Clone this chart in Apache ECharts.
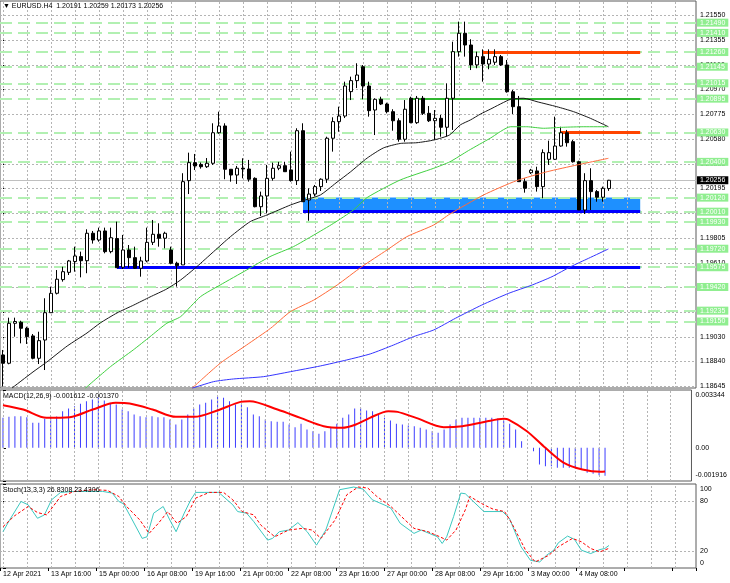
<!DOCTYPE html>
<html>
<head>
<meta charset="utf-8">
<script src="https://cdn.jsdelivr.net/npm/echarts@6/dist/echarts.min.js"></script>
<style>
html, body { margin: 0; padding: 0; background: #fff; }
#main { width: 730px; height: 583px; }
</style>
</head>
<body>
<div id="main"></div>
<script>
// EURUSD H4, bars from 12 Apr 08:00 to 5 May 04:00
const timeLabels = ['12 Apr 2021', '13 Apr 16:00', '15 Apr 00:00', '16 Apr 08:00', '19 Apr 16:00', '21 Apr 00:00',
    '22 Apr 08:00', '23 Apr 16:00', '27 Apr 00:00', '28 Apr 08:00', '29 Apr 16:00', '3 May 00:00', '4 May 08:00'];

const priceTicks = ['1.18645', '1.18840', '1.19030', '1.19225', '1.19420', '1.19610', '1.19805', '1.20000',
    '1.20195', '1.20385', '1.20580', '1.20775', '1.20970', '1.21160', '1.21355', '1.21550'];

const opens = [1.18888,1.18823,1.19136,1.19144,1.19097,1.19037,1.18862,1.19005,1.19219,1.19371,
    1.19478,1.19535,1.19620,1.19658,1.19626,1.19841,1.19788,1.19859,1.19697,1.19800,
    1.19575,1.19710,1.19650,1.19567,1.19624,1.19770,1.19833,1.19802,1.19710,1.19606,
    1.19593,1.20253,1.20394,1.20380,1.20362,1.20389,1.20628,1.20681,1.20342,1.20297,
    1.20350,1.20344,1.20271,1.20049,1.20133,1.20271,1.20350,1.20370,1.20337,1.20253,
    1.20644,1.20101,1.20148,1.20206,1.20264,1.20585,1.20715,1.20759,1.20950,1.21036,
    1.21145,1.20994,1.20806,1.20890,1.20853,1.20793,1.20722,1.20577,1.20898,1.20707,
    1.20898,1.20780,1.20722,1.20741,1.20671,1.20898,1.21263,1.21407,1.21315,1.21159,
    1.21224,1.21166,1.21180,1.21224,1.21159,1.20949,1.20832,1.20245,1.20315,1.20329,
    1.20206,1.20420,1.20420,1.20524,1.20628,1.20558,1.20401,1.20023,1.20253,1.20167,
    1.20123,1.20191];
const highs = [1.18927,1.19180,1.19180,1.19156,1.19109,1.19052,1.19070,1.19332,1.19423,1.19553,
    1.19579,1.19632,1.19736,1.19697,1.19872,1.19859,1.19885,1.19885,1.19885,1.19932,
    1.19828,1.19749,1.19736,1.19657,1.19885,1.19945,1.19919,1.19853,1.19736,1.19618,
    1.20311,1.20472,1.20462,1.20395,1.20430,1.20702,1.20793,1.20702,1.20342,1.20368,
    1.20428,1.20415,1.20279,1.20167,1.20376,1.20394,1.20400,1.20401,1.20480,1.20663,
    1.20702,1.20193,1.20219,1.20271,1.20597,1.20749,1.20832,1.21028,1.21067,1.21172,
    1.21158,1.21028,1.20898,1.20910,1.20863,1.20812,1.20741,1.20884,1.20910,1.20916,
    1.20916,1.20837,1.20806,1.20767,1.21015,1.21341,1.21498,1.21498,1.21360,1.21263,
    1.21281,1.21281,1.21281,1.21237,1.21198,1.20963,1.20916,1.20271,1.20345,1.20362,
    1.20498,1.20566,1.20754,1.20675,1.20650,1.20571,1.20409,1.20311,1.20350,1.20180,
    1.20206,1.20259];
const lows = [1.18640,1.18815,1.19031,1.18979,1.18974,1.18854,1.18817,1.18770,1.19219,1.19362,
    1.19462,1.19514,1.19540,1.19496,1.19528,1.19760,1.19775,1.19684,1.19684,1.19571,
    1.19561,1.19571,1.19561,1.19501,1.19614,1.19749,1.19736,1.19723,1.19598,1.19423,
    1.19593,1.20148,1.20336,1.20347,1.20352,1.20376,1.20620,1.20264,1.20245,1.20227,
    1.20271,1.20245,1.20044,1.19976,1.19997,1.20253,1.20335,1.20323,1.20245,1.20219,
    1.20088,1.19939,1.20130,1.20172,1.20235,1.20480,1.20636,1.20743,1.20884,1.20978,
    1.20890,1.20754,1.20610,1.20845,1.20780,1.20644,1.20558,1.20558,1.20702,1.20697,
    1.20767,1.20712,1.20571,1.20597,1.20597,1.20650,1.21224,1.21224,1.21119,1.21133,
    1.21028,1.21125,1.21159,1.21151,1.20942,1.20775,1.20245,1.20159,1.20305,1.20167,
    1.20115,1.20376,1.20415,1.20519,1.20519,1.20394,1.20023,1.19992,1.20023,1.20088,
    1.20088,1.20173];
const closes = [1.18823,1.19136,1.19150,1.19097,1.19031,1.18862,1.19000,1.19219,1.19371,1.19481,
    1.19540,1.19624,1.19663,1.19626,1.19841,1.19788,1.19859,1.19697,1.19806,1.19571,
    1.19710,1.19650,1.19567,1.19624,1.19770,1.19833,1.19802,1.19841,1.19606,1.19587,
    1.20245,1.20394,1.20368,1.20362,1.20389,1.20628,1.20681,1.20342,1.20297,1.20350,
    1.20344,1.20264,1.20049,1.20133,1.20271,1.20350,1.20370,1.20323,1.20253,1.20644,
    1.20088,1.20148,1.20206,1.20264,1.20585,1.20715,1.20759,1.20994,1.21036,1.21080,
    1.20994,1.20801,1.20890,1.20853,1.20793,1.20722,1.20577,1.20812,1.20707,1.20898,
    1.20780,1.20722,1.20741,1.20671,1.20898,1.21263,1.21407,1.21315,1.21159,1.21224,
    1.21166,1.21203,1.21224,1.21159,1.20949,1.20832,1.20245,1.20193,1.20335,1.20206,
    1.20472,1.20472,1.20524,1.20628,1.20550,1.20401,1.20023,1.20253,1.20167,1.20123,
    1.20193,1.20256];

// moving averages, [bar, price]
const maBlack = [[1.5,1.18629],[5,1.18755],[7.3,1.18833],[10.7,1.18958],[14,1.19060],[16.2,1.19138],[19,1.19217],
    [21.8,1.19279],[24.5,1.19342],[27.3,1.19405],[29.6,1.19475],[32.3,1.19579],[35.1,1.19697],[37.9,1.19814],
    [41.2,1.19932],[44,1.19984],[47.9,1.20062],[50.1,1.20098],[52.9,1.20141],[55.5,1.20235],[57.9,1.20321],
    [60.7,1.20430],[63.4,1.20509],[66.2,1.20544],[69,1.20550],[71.8,1.20571],[74.4,1.20610],[76.2,1.20689],
    [77.9,1.20728],[79.6,1.20775],[81.2,1.20812],[84.6,1.20890],[86.8,1.20898],[89,1.20871],[92.3,1.20832],
    [95.1,1.20793],[97.9,1.20741],[100.9,1.20675]];
const maGreen = [[13.7,1.18627],[17.9,1.18796],[21.7,1.18927],[24.5,1.19031],[27.3,1.19136],[29.6,1.19188],
    [32.9,1.19344],[36.2,1.19436],[40.6,1.19553],[44.5,1.19658],[48.4,1.19736],[51.8,1.19827],[55.1,1.19919],
    [58.4,1.20023],[60.7,1.20121],[66.2,1.20258],[71.8,1.20350],[74.5,1.20401],[77.6,1.20489],[81.2,1.20585],
    [84.6,1.20675],[87.3,1.20675],[90.1,1.20663],[93.4,1.20671],[96.8,1.20675],[100.7,1.20675]];
const maOrange = [[31.5,1.18627],[36.2,1.18823],[40.6,1.18966],[44.6,1.19097],[47.9,1.19227],[51.8,1.19318],
    [55.7,1.19436],[59.8,1.19579],[64,1.19710],[67.3,1.19814],[71.8,1.19906],[74.5,1.19992],[80.1,1.20141],
    [85.6,1.20253],[90.7,1.20323],[95.7,1.20376],[100.9,1.20428]];
const maBlue = [[31.5,1.18627],[35.1,1.18679],[38.4,1.18700],[43.4,1.18718],[47.9,1.18757],[52.9,1.18802],
    [57.3,1.18849],[61.2,1.18896],[65.1,1.18966],[68.4,1.19031],[71.8,1.19084],[75.4,1.19175],[79.8,1.19279],
    [84.3,1.19371],[88.2,1.19436],[91.5,1.19501],[94.6,1.19579],[97.6,1.19645],[100.9,1.19718]];

// horizontal levels drawn on the chart
const levelPrices = [1.21490, 1.21410, 1.21260, 1.21145, 1.21015, 1.20895, 1.20630, 1.20400,
    1.20120, 1.20010, 1.19930, 1.19720, 1.19575, 1.19420, 1.19235, 1.19150];
const lastPrice = 1.20256;
// [fromBar, toBar, price]
const redLines = [[80, 106.2, 1.21260], [93, 106.2, 1.20630]];
const greenLines = [[68, 106.2, 1.20895]];
const blueLines = [[19, 106.2, 1.19575], [50, 106.2, 1.20010]];
// [fromBar, toBar, low, high]
const blueZone = [50, 106.2, 1.20010, 1.20120];

// MACD(12,26,9)
const macdHist = [0.001734,0.001792,0.001831,0.001831,0.001773,0.001445,0.001445,0.001676,0.001811,0.001811,
    0.002120,0.002274,0.002409,0.002544,0.002698,0.002794,0.002890,0.002736,0.002601,0.002505,
    0.002216,0.002120,0.001927,0.001831,0.001773,0.001831,0.001773,0.001773,0.001638,0.001349,
    0.001638,0.001927,0.002274,0.002505,0.002601,0.002794,0.002987,0.002890,0.002698,0.002505,
    0.002544,0.002351,0.001927,0.001831,0.001638,0.001542,0.001503,0.001503,0.001349,0.001195,
    0.001387,0.001060,0.000964,0.000809,0.000964,0.001195,0.001387,0.001734,0.001927,0.002274,
    0.002312,0.002158,0.002120,0.001927,0.001734,0.001580,0.001387,0.001349,0.001291,0.001253,
    0.001156,0.001060,0.000964,0.000867,0.001060,0.001349,0.001638,0.001734,0.001734,0.001734,
    0.001734,0.001734,0.001734,0.001696,0.001580,0.001387,0.001060,0.000385,-0.000039,-0.000193,
    -0.000964,-0.001060,-0.001060,-0.001156,-0.001156,-0.001156,-0.001156,-0.001253,-0.001445,-0.001503,
    -0.001580,-0.001612];
const macdSignal = [[0,0.002467],[3.4,0.002216],[7.3,0.001734],[11.2,0.001773],[15.05,0.002216],[18.9,0.002601],
    [21.25,0.002563],[25.1,0.002216],[29,0.001792],[32.1,0.001792],[35.95,0.002158],[39.85,0.002659],
    [41.4,0.002698],[46.05,0.002216],[49.9,0.001734],[53.8,0.001253],[56.9,0.001156],[59.2,0.001349],
    [61.55,0.001734],[64.65,0.002120],[66.2,0.002081],[69.3,0.001734],[73.95,0.001195],[77.05,0.001253],
    [80.9,0.001503],[84,0.001676],[84.8,0.001638],[87.9,0.000964],[91,0],[94.1,-0.000867],[97.2,-0.001253],
    [100.3,-0.001387],[101,-0.001370]];
const macdMax = 0.003344, macdMin = -0.001916;

// Stochastic(13,3,3)
const stochMain = [[0,43.2],[1.1,57.2],[3,79.2],[4.2,75.2],[5.75,59.2],[6.9,63.2],[8.1,81.2],[9.6,90],[11.95,91.2],
    [14.3,91.2],[16.6,91.2],[18.2,89.2],[19.3,79.2],[20.1,76.4],[21.25,61.2],[23.2,35.2],[24,37.2],[25.1,65.2],
    [26.7,73.2],[27.8,57.2],[28.85,43.2],[30.2,65.2],[31.3,81.2],[32.1,90],[33.65,90],[35.95,90],[38.3,75.2],
    [39.1,67.2],[40.6,65.2],[41.8,55.2],[44.1,33.2],[44.9,35.2],[46.05,43.2],[47.6,45.2],[49.15,54],[50.7,43.2],
    [52.25,27.2],[53.8,45.2],[54.95,69.2],[56.1,93.2],[58.45,96.4],[60,94],[61.55,81.2],[63.9,74],[64.65,71.2],
    [66.2,53.2],[68.5,41.2],[69.7,45.2],[72.4,37.2],[73.2,29.2],[73.95,37.2],[75.1,61.2],[76.3,89.2],[77.05,88.4],
    [77.8,83.2],[80.15,67.2],[83.25,67.2],[84.4,59.2],[86.35,25.2],[87.9,9.2],[89.45,7.2],[90.6,15.2],[91.8,21.2],
    [92.55,30],[94.1,38],[95.25,34],[96.4,21.2],[97.95,17.2],[99.5,22],[100.3,23.2],[101,26.8308]];
const stochSignal = [[0,49.2],[1.9,62],[4.2,73.2],[5.75,66],[7.3,63.2],[9.6,85.2],[11.95,91.2],[15.05,93.2],
    [17.4,92.4],[19.3,85.2],[20.5,74],[22.8,57.2],[24.35,41.2],[25.9,53.2],[27.45,67.2],[29,53.2],[30.55,61.2],
    [32.1,83.2],[34.4,90],[36.75,90],[38.3,81.2],[39.85,67.2],[41.8,63.2],[42.95,51.2],[45.3,37.2],[47.6,45.2],
    [49.9,47.2],[51.5,45.2],[53,35.2],[55.35,57.2],[57.3,87.2],[59.2,96.4],[60.8,95.2],[62.3,85.2],[64.65,73.2],
    [67,57.2],[68.5,47.2],[70.85,43.2],[72.8,37.2],[73.95,33.2],[75.5,45.2],[77.05,69.2],[77.8,85.2],[80.15,75.2],
    [81.7,70],[83.6,67.2],[84.8,53.2],[87.1,21.2],[88.7,7.2],[91,15.2],[92.55,25.2],[94.9,35.2],[96.4,31.2],
    [97.95,23.2],[99.5,19.2],[101,23.4306]];
const stochTicks = [100, 80, 20, 0];

const FONT = "'Liberation Sans', 'DejaVu Sans', sans-serif";
const N = 116;   // bar slots across the panel width
const cats = Array.from({length: N}, (_, i) => String(i));
const tickVals = priceTicks.map(Number);

const last = opens.length - 1;
const header = '\u25BC EURUSD.H4  ' + [opens[last], highs[last], lows[last], closes[last]].map(v => v.toFixed(5)).join(' ');

function catAxis(g, showLabels) {
    return {
        type: 'category', gridIndex: g, data: cats, boundaryGap: true,
        axisLine: {show: false}, splitLine: {show: false},
        axisTick: showLabels ? {show: true, length: 3, interval: i => i % 8 === 0, lineStyle: {color: '#000'}} : {show: false},
        axisLabel: showLabels ? {
            show: true, interval: i => i % 8 === 0 && i / 8 < timeLabels.length,
            formatter: (v, i) => (i % 8 === 0 && timeLabels[i / 8]) || '',
            align: 'left', fontSize: 7, color: '#000', fontFamily: FONT, margin: 3
        } : {show: false}
    };
}
function valAxis(g) {
    return {type: 'value', gridIndex: g, min: -0.5, max: N - 0.5, show: false};
}
// dotted grid: a vertical line every 4 bars plus the given horizontal values
function gridSeries(x, y, hVals) {
    const lines = [];
    for (let i = 0; i < N; i += 4) {
        lines.push([{coord: [i, 'min']}, {coord: [i, 'max']}]);
    }
    hVals.forEach(v => lines.push({yAxis: v}));
    return {
        type: 'line', xAxisIndex: x, yAxisIndex: y, data: [], z: 1, silent: true,
        markLine: {
            silent: true, symbol: 'none', animation: false, precision: 6, label: {show: false},
            lineStyle: {color: '#b4b4b4', type: [2, 2], width: 1},
            data: lines
        }
    };
}
function segment(arr, color, width) {
    return arr.map(s => [
        {coord: [s[0], s[2]], lineStyle: {color: color, width: width, type: 'solid'}},
        {coord: [s[1], s[2]]}
    ]);
}

const myChart = echarts.init(document.getElementById('main'));
const option = {
    animation: false,
    backgroundColor: '#fff',
    title: [
        {text: header, left: 3, top: 3, padding: 0, textStyle: {fontSize: 7, fontWeight: 'normal', color: '#000', fontFamily: FONT}},
        {text: 'MACD(12,26,9) ' + macdHist[last].toFixed(6) + ' ' + macdSignal[macdSignal.length - 1][1].toFixed(6),
            left: 3, top: 393, padding: 0, textStyle: {fontSize: 7, fontWeight: 'normal', color: '#000', fontFamily: FONT}},
        {text: 'Stoch(13,3,3) ' + stochMain[stochMain.length - 1][1].toFixed(4) + ' ' + stochSignal[stochSignal.length - 1][1].toFixed(4),
            left: 3, top: 487, padding: 0, textStyle: {fontSize: 7, fontWeight: 'normal', color: '#000', fontFamily: FONT}}
    ],
    grid: [
        {left: 0, top: 1, width: 696, height: 387, show: true, borderColor: '#5a5a5a', borderWidth: 1},
        {left: 0, top: 390, width: 696, height: 91, show: true, borderColor: '#5a5a5a', borderWidth: 1},
        {left: 0, top: 484, width: 696, height: 84, show: true, borderColor: '#5a5a5a', borderWidth: 1}
    ],
    xAxis: [catAxis(0, false), valAxis(0), catAxis(1, false), valAxis(1), catAxis(2, true), valAxis(2)],
    yAxis: [
        {
            type: 'value', gridIndex: 0, position: 'right', min: 1.186293, max: 1.216596,
            axisLine: {show: false}, splitLine: {show: false},
            axisTick: {show: true, customValues: tickVals, length: 3, lineStyle: {color: '#000'}},
            axisLabel: {customValues: tickVals, formatter: v => v.toFixed(5), fontSize: 7, color: '#000', fontFamily: FONT, margin: 4}
        },
        {
            type: 'value', gridIndex: 1, position: 'right', min: macdMin, max: macdMax,
            axisLine: {show: false}, splitLine: {show: false},
            axisTick: {show: true, customValues: [macdMax, 0, macdMin], length: 3, lineStyle: {color: '#000'}},
            axisLabel: {
                customValues: [macdMax, 0, macdMin], fontSize: 7, color: '#000', fontFamily: FONT, margin: 4,
                formatter: v => v === macdMax ? '{t|' + v.toFixed(6) + '}' : v === macdMin ? '{b|' + v.toFixed(6) + '}' : '{m|0.00}',
                rich: {t: {padding: [11, 0, 0, 0], fontSize: 7}, b: {padding: [0, 0, 12, 0], fontSize: 7}, m: {fontSize: 7}}
            }
        },
        {
            type: 'value', gridIndex: 2, position: 'right', min: 0, max: 100,
            axisLine: {show: false}, splitLine: {show: false},
            axisTick: {show: true, customValues: stochTicks, length: 3, lineStyle: {color: '#000'}},
            axisLabel: {
                customValues: stochTicks, fontSize: 7, color: '#000', fontFamily: FONT, margin: 4,
                formatter: v => v === 100 ? '{t|100}' : v === 0 ? '{b|0}' : '{m|' + v + '}',
                rich: {t: {padding: [10, 0, 0, 0], fontSize: 7}, b: {padding: [0, 0, 10, 0], fontSize: 7}, m: {fontSize: 7}}
            }
        }
    ],
    series: [
        gridSeries(1, 0, tickVals),
        gridSeries(3, 1, []),
        gridSeries(5, 2, [80, 20]),
        {
            // green price levels and the current price line
            type: 'line', xAxisIndex: 1, yAxisIndex: 0, data: [], z: 2, silent: true,
            markLine: {
                silent: true, symbol: 'none', animation: false, precision: 6,
                lineStyle: {color: '#b2f0b2', type: [12, 6], width: 2},
                label: {
                    show: true, position: 'end', distance: 1, formatter: p => Number(p.value).toFixed(5),
                    color: '#fff', backgroundColor: '#90ee90', padding: [1, 3, 0, 3],
                    fontSize: 7, fontFamily: FONT
                },
                data: levelPrices.map(p => ({yAxis: p})).concat([{
                    yAxis: lastPrice, lineStyle: {color: '#c0c0c0', type: 'solid', width: 1},
                    label: {backgroundColor: '#000', color: '#fff'}
                }])
            }
        },
        {
            type: 'line', xAxisIndex: 1, yAxisIndex: 0, data: [], z: 3, silent: true,
            markArea: {
                silent: true, itemStyle: {color: '#1e90ff', opacity: 1},
                data: [[{coord: [blueZone[0], blueZone[3]]}, {coord: [blueZone[1], blueZone[2]]}]]
            }
        },
        {
            type: 'candlestick', xAxisIndex: 0, yAxisIndex: 0, z: 5, barWidth: 4,
            data: opens.map((o, i) => [o, closes[i], lows[i], highs[i]]),
            itemStyle: {color: '#fff', color0: '#000', borderColor: '#000', borderColor0: '#000', borderWidth: 1}
        },
        {
            type: 'line', xAxisIndex: 1, yAxisIndex: 0, data: [], z: 6, silent: true,
            markLine: {
                silent: true, symbol: 'none', animation: false, precision: 6, label: {show: false},
                data: segment(redLines, '#ff4500', 3)
                    .concat(segment(greenLines, '#2fb52f', 2))
                    .concat(segment(blueLines, '#0000ff', 3))
            }
        },
        {type: 'line', xAxisIndex: 1, yAxisIndex: 0, data: maBlack, showSymbol: false, smooth: 0.2, z: 7,
            lineStyle: {color: '#1a1a1a', width: 1}},
        {type: 'line', xAxisIndex: 1, yAxisIndex: 0, data: maGreen, showSymbol: false, smooth: 0.2, z: 7,
            lineStyle: {color: '#40d040', width: 1}},
        {type: 'line', xAxisIndex: 1, yAxisIndex: 0, data: maOrange, showSymbol: false, smooth: 0.2, z: 7,
            lineStyle: {color: '#ff6a3a', width: 1}},
        {type: 'line', xAxisIndex: 1, yAxisIndex: 0, data: maBlue, showSymbol: false, smooth: 0.2, z: 7,
            lineStyle: {color: '#3434ff', width: 1}},
        {type: 'bar', xAxisIndex: 2, yAxisIndex: 1, data: macdHist, barWidth: 1, z: 4,
            itemStyle: {color: '#3c3cff'}},
        {type: 'line', xAxisIndex: 3, yAxisIndex: 1, data: macdSignal, showSymbol: false, smooth: 0.3, z: 5,
            lineStyle: {color: '#ff0000', width: 2}},
        {type: 'line', xAxisIndex: 5, yAxisIndex: 2, data: stochMain, showSymbol: false, z: 5,
            lineStyle: {color: '#3cc8c0', width: 1}},
        {type: 'line', xAxisIndex: 5, yAxisIndex: 2, data: stochSignal, showSymbol: false, z: 5,
            lineStyle: {color: '#ff0000', width: 1, type: [3, 2]}}
    ]
};
myChart.setOption(option);
</script>
</body>
</html>
